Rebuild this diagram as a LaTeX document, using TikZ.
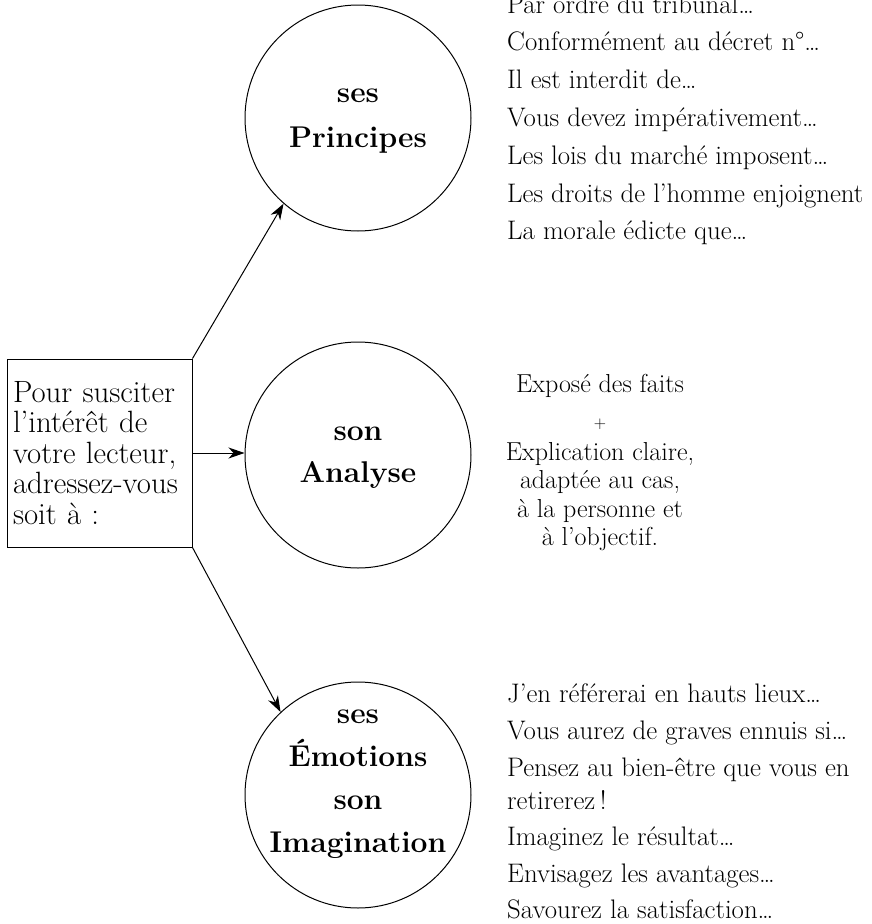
\documentclass[tikz,border=0pt]{standalone}
\usetikzlibrary{arrows.meta}
\tikzset{
  circ/.style={circle, draw, line width=1pt, minimum size=226pt, inner sep=0pt},
  circlabel/.style={font=\bfseries\fontsize{30}{43}\selectfont, align=center, inner sep=0pt, anchor=north},
  listline/.style={font=\fontsize{26.8}{30}\selectfont, anchor=base west, inner sep=0pt},
  midline/.style={font=\fontsize{26}{28.5}\selectfont, anchor=base, inner sep=0pt},
  leftbox/.style={draw, line width=1pt, minimum width=185pt, minimum height=188pt, text width=173pt,
    inner xsep=6pt, inner ysep=0pt, align=left, font=\fontsize{30.8}{30.5}\selectfont},
  conn/.style={line width=1pt, -{Stealth[length=16pt,width=11pt,inset=5pt]}}
}
\begin{document}
\begin{tikzpicture}[x=1pt,y=-1pt]
\useasboundingbox (0,0) rectangle (871,924);

% left box
\node[leftbox] (b) at (99.5,453) {Pour susciter\\l’intérêt de\\votre lecteur,\\adressez-vous\\soit à :};

% circles
\node[circ] (c1) at (358,118) {};
\node[circ] (c2) at (358,455) {};
\node[circ] (c3) at (358,795) {};

\node[circlabel, font=\bfseries\fontsize{30}{45}\selectfont] (t1) at (358,89) {ses\\Principes};
\node[circlabel, font=\bfseries\fontsize{30}{42}\selectfont] (t2) at (358,427) {son\\Analyse};
\node[circlabel] (t3) at (358,710) {ses\\Émotions\\son\\Imagination};

% connectors
\draw[conn] (b.north east) -- (c1.229);
\draw[conn] (b.east) -- (b.east -| c2.west);
\draw[conn] (b.south east) -- (c3.133);

% top list
\node[listline] (p1) at (507,13) {Par ordre du tribunal…};
\node[listline] (p2) at (507,50.8) {Conformément au décret n°…};
\node[listline] (p3) at (507,88.6) {Il est interdit de…};
\node[listline] (p4) at (507,126.4) {Vous devez impérativement…};
\node[listline] (p5) at (507,164.2) {Les lois du marché imposent…};
\node[listline] (p6) at (507,202) {Les droits de l’homme enjoignent};
\node[listline] (p7) at (507,239.8) {La morale édicte que…};

% middle text
\node[midline] (a1) at (600,392) {Exposé des faits};
\node[midline, font=\fontsize{17}{18}\selectfont] (a2) at (600,428) {+};
\node[midline] (a3) at (600,460) {Explication claire,};
\node[midline] (a4) at (600,488.5) {adaptée au cas,};
\node[midline] (a5) at (600,517) {à la personne et};
\node[midline] (a6) at (600,545.5) {à l’objectif.};

% bottom list
\node[listline] (e1) at (507,702) {J’en référerai en hauts lieux…};
\node[listline] (e2) at (507,739) {Vous aurez de graves ennuis si…};
\node[listline] (e3) at (507,776) {Pensez au bien-être que vous en};
\node[listline] (e4) at (507,809) {retirerez\,!};
\node[listline] (e5) at (507,845) {Imaginez le résultat…};
\node[listline] (e6) at (507,882) {Envisagez les avantages…};
\node[listline] (e7) at (507,918) {Savourez la satisfaction…};
\end{tikzpicture}
\end{document}
